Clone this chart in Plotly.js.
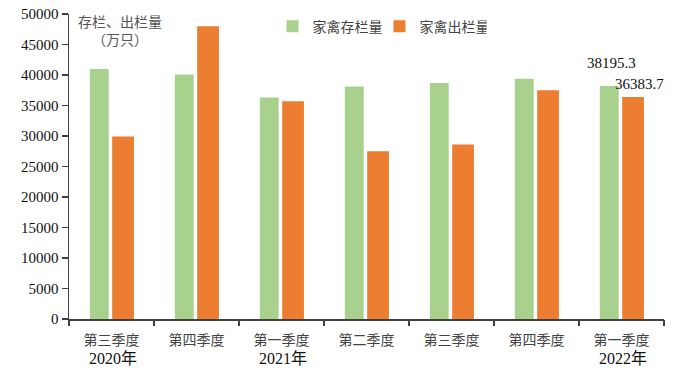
<!DOCTYPE html>
<html>
<head>
<meta charset="utf-8">
<script src="https://cdn.plot.ly/plotly-3.0.1.min.js"></script>
<style>
  html, body { margin: 0; padding: 0; background: #fff; }
  #chart { width: 686px; height: 379px; }
</style>
</head>
<body>
<div id="chart"></div>
<script>
// ---- data ----
const quarters = ["第三季度", "第四季度", "第一季度", "第二季度", "第三季度", "第四季度", "第一季度"];
const years = ["2020年", "", "2021年", "", "", "", "2022年"];
const stockValues = [41000, 40100, 36300, 38100, 38700, 39400, 38195.3];   // 家禽存栏量
const outputValues = [29900, 48000, 35700, 27500, 28600, 37500, 36383.7];  // 家禽出栏量
const seriesNames = ["家禽存栏量", "家禽出栏量"];
const yTicks = [0, 5000, 10000, 15000, 20000, 25000, 30000, 35000, 40000, 45000, 50000];

const idx = quarters.map((_, i) => i);
const cjk = '"Noto Sans CJK SC", "Noto Sans", sans-serif';
const serif = '"Liberation Serif", "Noto Sans CJK SC", serif';

const traces = [
  {
    type: 'bar', name: seriesNames[0], x: idx, y: stockValues,
    marker: { color: '#A9D18E', line: { width: 0 } },
    offset: -0.255, width: 0.222, hoverinfo: 'y'
  },
  {
    type: 'bar', name: seriesNames[1], x: idx, y: outputValues,
    marker: { color: '#ED7D31', line: { width: 0 } },
    offset: 0.008, width: 0.256, hoverinfo: 'y'
  },
  // invisible trace to carry the boundary ticks on xaxis2
  { type: 'scatter', x: [0], y: [0], xaxis: 'x2', yaxis: 'y', mode: 'markers',
    marker: { opacity: 0 }, showlegend: false, hoverinfo: 'skip' }
];

const last = idx.length - 1;

const annotations = [
  {
    xref: 'paper', yref: 'paper', x: 0.086, y: 0.948, xanchor: 'center', yanchor: 'middle',
    text: '存栏、出栏量<br>（万只）', showarrow: false, align: 'center',
    font: { family: cjk, size: 14, color: '#555' }
  },
  {
    x: last, y: stockValues[last], xref: 'x', yref: 'y', text: String(stockValues[last]),
    showarrow: false, xanchor: 'center', yanchor: 'middle', xshift: -10, yshift: 23,
    font: { family: serif, size: 15, color: '#111' }
  },
  {
    x: last, y: outputValues[last], xref: 'x', yref: 'y', text: String(outputValues[last]),
    showarrow: false, xanchor: 'center', yanchor: 'middle', xshift: 18, yshift: 13,
    font: { family: serif, size: 15, color: '#111' }
  }
];
years.forEach((yr, i) => {
  if (!yr) return;
  annotations.push({
    x: i, y: 0, xref: 'x', yref: 'paper', text: yr, showarrow: false,
    xanchor: 'center', yanchor: 'middle', xshift: 1, yshift: -39,
    font: { family: serif, size: 16, color: '#111' }
  });
});

const layout = {
  width: 686, height: 379,
  margin: { l: 69, r: 22, t: 13, b: 60, pad: 0 },
  paper_bgcolor: '#fff', plot_bgcolor: '#fff',
  barmode: 'group',
  showlegend: true,
  legend: {
    orientation: 'h', x: 0.342, xanchor: 'left', y: 0.955, yanchor: 'middle',
    font: { family: cjk, size: 14, color: '#444' },
    itemwidth: 30, entrywidth: 62, entrywidthmode: 'pixels',
    bgcolor: 'rgba(0,0,0,0)', traceorder: 'normal'
  },
  xaxis: {
    type: 'linear', range: [-0.5, last + 0.5],
    tickmode: 'array', tickvals: idx, ticktext: quarters,
    showgrid: false, zeroline: false,
    showline: true, linecolor: '#404040', linewidth: 1.5,
    ticks: '', ticklabelstandoff: 8,
    tickfont: { family: cjk, size: 14, color: '#444' },
    fixedrange: true
  },
  xaxis2: {
    overlaying: 'x', matches: 'x', range: [-0.5, last + 0.5],
    tickmode: 'array', tickvals: idx.map(i => i - 0.5).concat([last + 0.5]),
    ticks: 'outside', ticklen: 6, tickwidth: 1.5, tickcolor: '#404040',
    showticklabels: false, showgrid: false, zeroline: false, showline: false,
    anchor: 'y', side: 'bottom'
  },
  yaxis: {
    range: [0, 50000], tickmode: 'array', tickvals: yTicks, ticktext: yTicks.map(String),
    showgrid: false, zeroline: false,
    showline: true, linecolor: '#404040', linewidth: 1.5,
    ticks: 'outside', ticklen: 6, tickwidth: 1.5, tickcolor: '#404040',
    tickfont: { family: serif, size: 15, color: '#111' },
    fixedrange: true
  },
  annotations: annotations
};

Plotly.newPlot('chart', traces, layout, { displayModeBar: false, staticPlot: true });
</script>
</body>
</html>
